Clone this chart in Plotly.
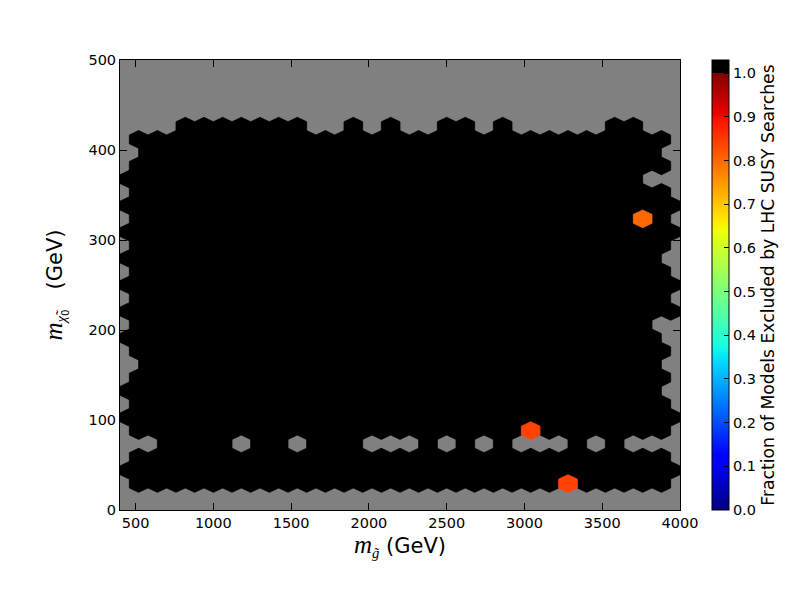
import plotly.graph_objects as go
from plotly.colors import find_intermediate_color, unlabel_rgb, label_rgb

# hexbin lattice (matplotlib style, gridsize 30) over the plotted extent
X_MIN, X_MAX, Y_MIN, Y_MAX = 400, 4000, 0, 500
N_X, N_Y = 30, 17

# one string per half-row of the hex lattice, highest row first (row 29 down to row 2)
# even rows hold 31 cells, odd rows 30 cells shifted by half a hex
# '#' = every model excluded, '.' = empty bin, 'o' = partly excluded (see PARTIAL_FRACTIONS)
TOP_ROW = 29
EXCLUSION_MAP = [
    "...#######..#.#..##.#.....##..",
    ".#############################.",
    ".############################.",
    ".#############################.",
    "############################..",
    ".#############################.",
    "##############################",
    ".###########################o#.",
    "##############################",
    ".#############################.",
    "#############################.",
    ".#############################.",
    "##############################",
    ".#############################.",
    "##############################",
    ".############################..",
    "#############################.",
    ".#############################.",
    ".############################.",
    ".#############################.",
    "#############################.",
    ".#############################.",
    "##############################",
    ".#####################o#######.",
    "..####.##.###...#.#.#...#.#...",
    ".#############################.",
    "##############################",
    ".#######################o#####.",
]
FULL_FRACTION = 1.0
PARTIAL_FRACTIONS = [0.80, 0.84, 0.84]

CB_MAX = 1.03
jet = [(0.0, "rgb(0,0,128)"), (0.11, "rgb(0,0,255)"), (0.125, "rgb(0,0,255)"),
       (0.34, "rgb(0,219,255)"), (0.35, "rgb(0,230,247)"), (0.375, "rgb(21,255,226)"),
       (0.64, "rgb(239,255,8)"), (0.65, "rgb(247,245,0)"), (0.66, "rgb(255,236,0)"),
       (0.89, "rgb(255,19,0)"), (0.91, "rgb(232,0,0)"), (0.9999, "rgb(128,0,0)")]
colorscale = [[v / CB_MAX, c] for v, c in jet]
colorscale += [[0.99995 / CB_MAX, "rgb(0,0,0)"], [1.0, "rgb(0,0,0)"]]


def color_at(val):
    f = val / CB_MAX
    for (p0, c0), (p1, c1) in zip(colorscale[:-1], colorscale[1:]):
        if p0 <= f <= p1 and p1 > p0:
            t = (f - p0) / (p1 - p0)
            rgb = find_intermediate_color(unlabel_rgb(c0), unlabel_rgb(c1), t)
            return label_rgb(tuple(int(round(x)) for x in rgb))
    return colorscale[-1][1]


sx = (X_MAX - X_MIN) / N_X
sy = (Y_MAX - Y_MIN) / N_Y
hx = [0.5, 0.5, 0.0, -0.5, -0.5, 0.0, 0.5]
hy = [-0.5, 0.5, 1.0, 0.5, -0.5, -1.0, -0.5]

groups = {}
partial = iter(PARTIAL_FRACTIONS)
for k, row in enumerate(EXCLUSION_MAP):
    r = TOP_ROW - k
    shift = 0.5 if r % 2 else 0.0
    yc = Y_MIN + r * sy / 2
    for i, ch in enumerate(row):
        if ch == ".":
            continue
        val = FULL_FRACTION if ch == "#" else next(partial)
        xc = X_MIN + (i + shift) * sx
        xs, ys = groups.setdefault(val, ([], []))
        xs += [xc + a * sx for a in hx] + [None]
        ys += [yc + b * sy / 3 for b in hy] + [None]

fig = go.Figure()
for val, (xs, ys) in groups.items():
    col = color_at(val)
    fig.add_trace(go.Scatter(x=xs, y=ys, mode="lines", fill="toself", fillcolor=col,
                             line=dict(color=col, width=0.8), hoverinfo="skip", showlegend=False))

fig.add_trace(go.Scatter(
    x=[None], y=[None], mode="markers", showlegend=False, hoverinfo="skip",
    marker=dict(color=[0], cmin=0, cmax=CB_MAX, colorscale=colorscale, showscale=True,
                colorbar=dict(x=1.057, xanchor="left", xpad=0, y=0.5, yanchor="middle",
                              len=450, lenmode="pixels", thickness=17, ypad=0,
                              outlinewidth=1, outlinecolor="black",
                              tickvals=[i / 10 for i in range(11)], tickformat=".1f",
                              ticks="inside", ticklen=5, tickcolor="black",
                              tickfont=dict(size=14.5, color="black"),
                              title=dict(text="Fraction of Models Excluded by LHC SUSY Searches",
                                         side="right", font=dict(size=17.2, color="black")))),
))

M_TXT = '<span style="font-family:Liberation Serif;font-size:25px"><i>m</i></span>'
axis_common = dict(showgrid=False, zeroline=False, showline=True, linecolor="black", linewidth=1,
                   mirror="ticks", ticks="inside", ticklen=7, tickcolor="black",
                   tickfont=dict(size=14.5, color="black"))
fig.update_xaxes(range=[X_MIN, X_MAX], tickvals=list(range(500, 4001, 500)),
                 title=dict(text=M_TXT + '<sub><span style="font-family:Liberation Serif;font-style:italic">g\u0303</span></sub> (GeV)',
                            font=dict(size=21, color="black"), standoff=6), **axis_common)
fig.update_yaxes(range=[Y_MIN, Y_MAX], tickvals=list(range(0, 501, 100)),
                 title=dict(text=M_TXT + '<sub><span style="font-family:Liberation Serif;font-style:italic">\u03c7\u0303</span><sub>0</sub></sub>   (GeV)',
                            font=dict(size=21, color="black"), standoff=20), **axis_common)
# the page body adds an 8px offset, so margins are shifted to put the axes at 120..680 x 60..510
fig.update_layout(width=800, height=600, plot_bgcolor="#808080", paper_bgcolor="white",
                  font=dict(family="DejaVu Sans", color="black"),
                  margin=dict(l=112, r=128, t=52, b=98))
fig.write_html("out.html")
